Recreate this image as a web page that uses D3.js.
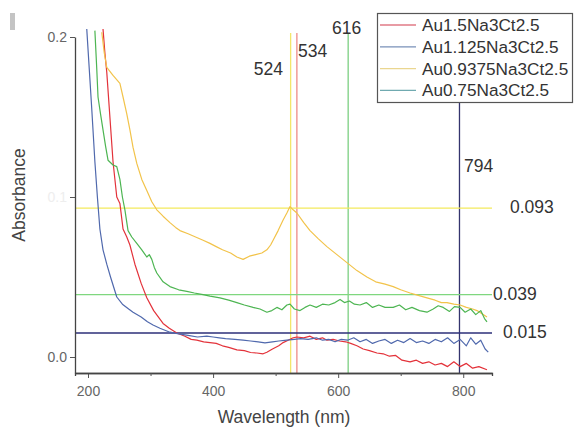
<!DOCTYPE html>
<html><head><meta charset="utf-8">
<script src="https://cdn.jsdelivr.net/npm/d3@7/dist/d3.min.js"></script>
<style>body{margin:0;background:#fff}svg{display:block}text{font-family:"Liberation Sans",Arial,sans-serif}</style>
</head><body><svg id="c" width="574" height="428"></svg>
<script>
const seriesNames = ["Au1.5Na3Ct2.5","Au1.125Na3Ct2.5","Au0.9375Na3Ct2.5","Au0.75Na3Ct2.5"];
const seriesColors = ["#e3323a","#5069ad","#f2c34a","#4db552"];
const legendColors = ["#e07a86","#7890b8","#ead690","#70aab0"];

const red = [[224,0.205],[227,0.19],[230,0.178],[235,0.15],[240,0.122],[246,0.1],[251,0.096],[256,0.08],[262,0.075],[267,0.07],[275,0.058],[285,0.046],[294,0.037],[305,0.029],[320,0.021],[330,0.018],[342,0.015],[355,0.013],[365,0.011],[374,0.0105],[385,0.0095],[395,0.009],[405,0.0085],[415,0.007],[425,0.006],[438,0.0045],[450,0.004],[460,0.0028],[470,0.0025],[480,0.002],[486,0.003],[495,0.005],[505,0.007],[512,0.009],[520,0.0105],[528,0.012],[534,0.0125],[545,0.012],[555,0.013],[565,0.011],[575,0.012],[582,0.0105],[592,0.011],[602,0.01],[612,0.0095],[620,0.0085],[630,0.007],[640,0.005],[650,0.004],[662,0.0025],[672,0.002],[682,0.0005],[692,0.001],[702,-0.002],[715,-0.003],[725,-0.002],[735,-0.004],[745,-0.003],[755,-0.005],[765,-0.004],[775,-0.006],[785,-0.003],[795,-0.006],[805,-0.004],[815,-0.007],[825,-0.006],[838,-0.008]];
const blue = [[198,0.205],[202,0.18],[206,0.155],[211,0.122],[215,0.1],[219,0.08],[224,0.067],[230,0.058],[236,0.05],[246,0.0375],[255,0.033],[265,0.03],[272,0.028],[285,0.025],[295,0.022],[304,0.02],[315,0.018],[331,0.0155],[345,0.0145],[360,0.0135],[375,0.0125],[390,0.013],[400,0.0125],[410,0.012],[420,0.0115],[435,0.011],[448,0.0105],[460,0.01],[472,0.0095],[483,0.0088],[495,0.0095],[505,0.01],[518,0.0106],[530,0.011],[540,0.0115],[552,0.011],[565,0.012],[575,0.0105],[585,0.011],[595,0.0095],[605,0.011],[615,0.0105],[625,0.012],[635,0.0095],[645,0.011],[655,0.0085],[665,0.01],[675,0.011],[685,0.0085],[695,0.0105],[705,0.009],[715,0.0115],[725,0.009],[735,0.01],[745,0.0085],[755,0.011],[765,0.0095],[775,0.012],[785,0.0085],[795,0.011],[805,0.007],[812,0.012],[820,0.008],[828,0.0105],[835,0.005],[840,0.003]];
const yellow = [[222,0.203],[226,0.19],[230,0.181],[240,0.176],[251,0.171],[256,0.1625],[262,0.152],[267,0.142],[272,0.131],[278,0.121],[286,0.111],[294,0.104],[302,0.097],[310,0.092],[320,0.088],[331,0.084],[340,0.081],[347,0.079],[360,0.077],[372,0.075],[384,0.073],[395,0.071],[405,0.069],[415,0.067],[428,0.065],[438,0.0625],[448,0.061],[458,0.063],[468,0.064],[478,0.065],[486,0.067],[492,0.07],[496,0.073],[504,0.079],[512,0.0856],[518,0.09],[523,0.094],[528,0.092],[534,0.09],[545,0.084],[555,0.079],[568,0.074],[582,0.069],[598,0.064],[614,0.059],[630,0.054],[646,0.05],[660,0.047],[675,0.0455],[688,0.044],[700,0.042],[715,0.04],[728,0.0385],[742,0.037],[755,0.0355],[765,0.034],[774,0.034],[785,0.033],[795,0.0325],[805,0.031],[815,0.03],[822,0.029],[830,0.027],[838,0.025]];
const green = [[211,0.204],[214,0.18],[216,0.1625],[220,0.152],[224,0.142],[228,0.132],[232,0.123],[240,0.12],[246,0.119],[251,0.111],[255,0.1],[259,0.092],[264,0.079],[270,0.075],[278,0.071],[286,0.067],[294,0.0625],[298,0.064],[302,0.061],[306,0.056],[310,0.0525],[320,0.047],[331,0.044],[345,0.042],[358,0.041],[370,0.04],[384,0.039],[395,0.038],[411,0.037],[425,0.0355],[438,0.034],[450,0.0325],[464,0.031],[475,0.03],[486,0.028],[494,0.029],[502,0.031],[510,0.0295],[518,0.0325],[523,0.033],[530,0.03],[539,0.029],[547,0.031],[555,0.0325],[565,0.031],[575,0.033],[585,0.0325],[595,0.034],[603,0.036],[610,0.034],[618,0.035],[626,0.033],[635,0.0325],[645,0.034],[655,0.031],[665,0.0325],[675,0.031],[688,0.031],[698,0.0325],[708,0.0295],[718,0.031],[730,0.029],[742,0.028],[752,0.03],[760,0.032],[768,0.031],[778,0.0285],[786,0.0315],[795,0.031],[803,0.028],[812,0.03],[820,0.0265],[828,0.029],[834,0.024],[838,0.022]];
const seriesData = [red, blue, yellow, green];

const xTicksMajor = [200,400,600,800];
const xTicksMinor = [300,500,700];
const yTickLabels = [{v:0.2,t:"0.2"},{v:0.1,t:"0.1"},{v:0.0,t:"0.0"}];

const vLines = [{x:524,label:"524",color:"#f3e66a"},{x:534,label:"534",color:"#ee8a86"},{x:616,label:"616",color:"#7ccf82"},{x:794,label:"794",color:"#34346e"}];
const hLines = [{y:0.093,label:"0.093",color:"#f3ea5c"},{y:0.039,label:"0.039",color:"#7fd77f"},{y:0.015,label:"0.015",color:"#2c2f78"}];

const svg = d3.select("#c");
const x = d3.scaleLinear().domain([179.2,846]).range([75,492]);
const y = d3.scaleLinear().domain([-0.01,0.2]).range([373,37]);

// artifact mark top-left
svg.append("rect").attr("x",10).attr("y",13).attr("width",5).attr("height",17).attr("fill","#c4c4c4");

// reference lines
const gv = svg.append("g");
vLines.forEach(d=>{
  gv.append("line").attr("x1",x(d.x)).attr("x2",x(d.x)).attr("y1",y(0.2025)).attr("y2",y(-0.01))
    .attr("stroke",d.color).attr("stroke-width",1.3);
});
hLines.forEach(d=>{
  gv.append("line").attr("x1",x(179.2)).attr("x2",x(846)).attr("y1",y(d.y)).attr("y2",y(d.y))
    .attr("stroke",d.color).attr("stroke-width",1.3);
});

// series
const line = d3.line().x(d=>x(d[0])).y(d=>y(d[1]));
seriesData.forEach((s,i)=>{
  svg.append("path").attr("d",line(s)).attr("fill","none").attr("stroke",seriesColors[i]).attr("stroke-width",1.2).attr("stroke-linejoin","round");
});

// axes
const xAxis = svg.append("g").attr("transform","translate(0,373)");
xAxis.call(d3.axisBottom(x).tickValues(xTicksMajor).tickSize(5).tickSizeOuter(0).tickFormat(d3.format("d")));
xAxis.append("g").call(d3.axisBottom(x).tickValues(xTicksMinor).tickSize(3).tickFormat(""));
const yAxis = svg.append("g").attr("transform","translate(75,0)");
yAxis.call(d3.axisLeft(y).tickValues(yTickLabels.map(d=>d.v)).tickSize(5).tickSizeOuter(0).tickFormat((d,i)=>yTickLabels[i].t));
svg.selectAll(".domain").attr("stroke","#444").attr("stroke-width",1.3);
svg.selectAll(".tick line").attr("stroke","#555");
svg.selectAll(".tick text").attr("fill","#666").style("font-size","14px").style("font-family","'Liberation Sans',Arial,sans-serif");
yAxis.selectAll(".tick text").filter(d=>d===0.1).attr("fill","#eeeeee");
xAxis.selectAll(".tick text").attr("dy","1.1em");

// annotation labels
const labPos = {"524":[283,75,"end"],"534":[298,57,"start"],"616":[332,34,"start"],"794":[464,172,"start"]};
vLines.forEach(d=>{
  const p = labPos[d.label];
  svg.append("text").attr("x",p[0]).attr("y",p[1]).attr("text-anchor",p[2]).attr("fill","#333").style("font-size","17.5px").text(d.label);
});
const hPos = {"0.093":[510,213],"0.039":[493,300],"0.015":[503,338]};
hLines.forEach(d=>{
  const p = hPos[d.label];
  svg.append("text").attr("x",p[0]).attr("y",p[1]).attr("fill","#333").style("font-size","17.5px").text(d.label);
});

// axis titles
svg.append("text").attr("x",284).attr("y",423).attr("text-anchor","middle").attr("fill","#444").style("font-size","17.5px").text("Wavelength (nm)");
svg.append("text").attr("transform","translate(25,195) rotate(-90)").attr("text-anchor","middle").attr("fill","#444").style("font-size","17.5px").text("Absorbance");

// legend
const lg = svg.append("g");
lg.append("rect").attr("x",377.5).attr("y",13.5).attr("width",195).attr("height",89).attr("fill","#fff").attr("stroke","#555").attr("stroke-width",1.2);
seriesNames.forEach((n,i)=>{
  const yy = 25 + i*21.8;
  lg.append("line").attr("x1",380).attr("x2",416).attr("y1",yy).attr("y2",yy).attr("stroke",legendColors[i]).attr("stroke-width",1.3);
  lg.append("text").attr("x",422).attr("y",yy+6).attr("fill","#333").style("font-size","17.2px").text(n);
});
</script></body></html>
